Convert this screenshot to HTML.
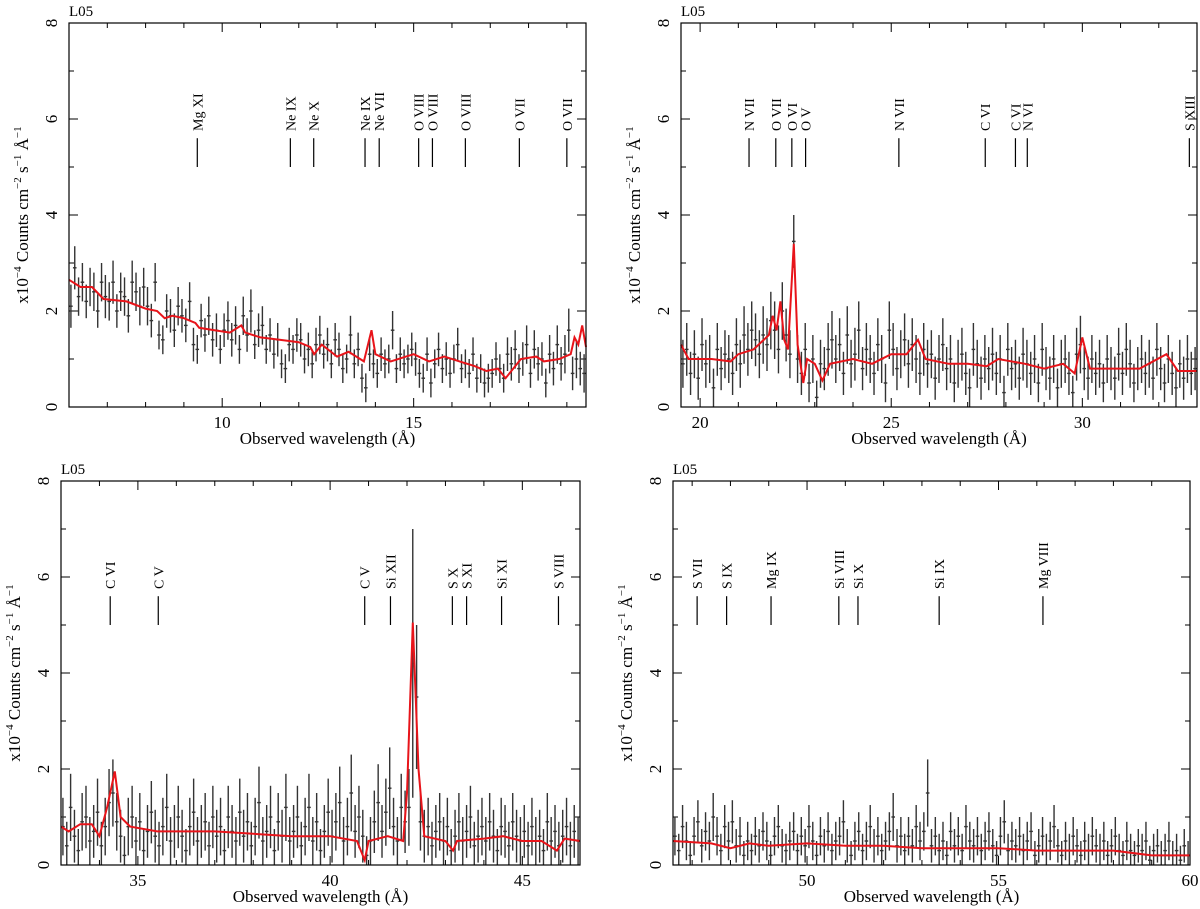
<!DOCTYPE html>
<html><head><meta charset="utf-8"><style>
body{margin:0;background:#fff}
svg{display:block;font-family:"Liberation Serif",serif}
</style></head><body>
<svg id="chart" width="1200" height="909" viewBox="0 0 1200 909" xmlns="http://www.w3.org/2000/svg"></svg>
<script>
// ---------- data ----------
const p1Start = 6.0, p2Start = 19.5, p3Start = 33.0, p4Start = 46.5;
const binStep = 0.1;
const p1Values = [2.1,2.9,2.3,2.6,2.2,2.5,2.4,2.0,2.6,2.3, 2.2,2.6,2.0,2.4,2.3,1.9,2.6,2.4,2.1,2.5, 2.1,1.8,2.6,1.5,1.4,2.0,1.9,1.6,2.1,1.9, 1.7,2.2,1.3,1.2,1.8,1.5,1.9,1.4,1.6,1.2, 1.6,1.8,1.4,1.7,1.2,1.9,1.5,2.0,1.3,1.6, 1.7,1.2,1.5,1.1,1.4,0.9,0.8,1.3,1.2,1.5, 1.4,1.0,1.2,0.9,1.3,1.5,1.1,1.3,0.9,1.4, 1.2,0.8,1.0,1.5,0.9,1.2,0.6,0.4,1.1,0.9, 0.7,1.1,0.9,1.0,1.6,0.8,1.1,0.9,1.0,1.2, 1.0,0.7,0.6,1.1,0.5,0.9,1.2,0.8,1.0,0.7, 1.0,1.3,0.8,0.9,0.7,1.1,0.6,0.8,0.5,0.6, 0.7,1.0,0.8,0.6,1.1,0.9,1.2,0.8,1.0,1.3, 0.7,1.2,0.9,1.0,0.5,1.1,0.8,1.3,0.9,1.1, 1.6,0.7,1.0,0.8,0.7];
const p1Errs = [0.45,0.45,0.4,0.4,0.35,0.4,0.4,0.35,0.4,0.45, 0.4,0.45,0.35,0.4,0.4,0.35,0.45,0.4,0.4,0.4, 0.4,0.35,0.4,0.3,0.3,0.35,0.35,0.35,0.4,0.35, 0.35,0.4,0.35,0.3,0.35,0.35,0.4,0.35,0.35,0.3, 0.35,0.4,0.35,0.4,0.3,0.4,0.35,0.45,0.3,0.35, 0.4,0.3,0.35,0.3,0.35,0.3,0.3,0.35,0.3,0.35, 0.35,0.3,0.35,0.3,0.35,0.4,0.3,0.35,0.3,0.35, 0.35,0.3,0.3,0.4,0.3,0.35,0.3,0.3,0.35,0.3, 0.3,0.35,0.3,0.3,0.4,0.3,0.35,0.3,0.3,0.35, 0.35,0.3,0.3,0.35,0.3,0.3,0.35,0.3,0.35,0.3, 0.3,0.35,0.3,0.3,0.3,0.35,0.3,0.3,0.3,0.3, 0.3,0.35,0.3,0.3,0.35,0.35,0.4,0.3,0.35,0.4, 0.3,0.4,0.35,0.35,0.3,0.4,0.35,0.4,0.35,0.4, 0.45,0.35,0.4,0.35,0.4];
const p2Values = [0.9,1.2,0.7,1.1,0.6,1.3,0.9,1.0,0.4,1.2, 0.8,1.1,1.0,0.7,1.3,0.9,1.5,1.2,1.6,1.4, 1.1,1.5,1.3,1.8,1.6,1.2,2.0,1.5,1.1,3.45, 1.0,0.7,1.2,0.5,1.0,0.2,0.9,0.8,1.2,1.4, 1.0,1.3,0.7,1.5,0.9,1.1,1.6,0.8,1.2,1.0, 0.7,1.3,1.0,0.5,1.6,1.2,0.8,1.1,1.4,0.9, 1.3,1.0,0.7,1.2,0.9,1.1,0.6,1.0,1.3,0.8, 1.0,0.5,0.9,1.1,0.7,0.4,1.2,0.9,0.6,1.0, 0.8,1.1,0.7,1.0,0.3,1.2,0.8,0.9,0.6,1.1, 0.9,0.7,1.0,0.5,1.2,0.8,0.6,1.0,0.4,0.9, 1.0,0.7,0.3,1.1,1.3,0.8,0.6,1.0,0.7,0.9, 0.5,1.0,0.8,0.6,1.1,0.7,1.2,0.9,0.5,0.8, 1.0,0.7,0.9,0.6,1.2,0.8,0.5,1.0,0.7,0.4, 0.9,0.6,1.0,0.7,0.8];
const p2Errs = [0.5,0.55,0.45,0.5,0.45,0.55,0.5,0.5,0.4,0.55, 0.45,0.5,0.5,0.45,0.55,0.5,0.6,0.55,0.6,0.55, 0.5,0.6,0.55,0.6,0.6,0.5,0.6,0.55,0.5,0.55, 0.5,0.45,0.55,0.4,0.5,0.35,0.5,0.45,0.55,0.6, 0.5,0.55,0.45,0.6,0.5,0.55,0.6,0.45,0.55,0.5, 0.45,0.55,0.5,0.4,0.6,0.55,0.45,0.5,0.55,0.5, 0.55,0.5,0.45,0.55,0.5,0.5,0.45,0.5,0.55,0.45, 0.5,0.4,0.5,0.55,0.45,0.4,0.55,0.5,0.45,0.5, 0.45,0.55,0.45,0.5,0.35,0.55,0.45,0.5,0.45,0.55, 0.5,0.45,0.5,0.4,0.55,0.45,0.45,0.5,0.4,0.5, 0.5,0.45,0.35,0.55,0.6,0.45,0.45,0.5,0.45,0.5, 0.4,0.5,0.45,0.45,0.55,0.45,0.55,0.5,0.4,0.45, 0.5,0.45,0.5,0.45,0.55,0.45,0.4,0.5,0.45,0.4, 0.5,0.45,0.5,0.45,0.45];
const p3Values = [0.8,0.4,1.2,0.6,0.3,0.9,1.0,0.5,0.7,1.1, 0.4,0.8,1.3,1.5,0.9,0.6,0.2,0.8,1.0,0.5, 0.9,0.3,0.7,1.1,0.6,0.4,0.8,1.2,0.5,0.7, 1.0,0.6,0.3,0.8,1.1,0.5,0.7,0.9,0.4,1.0, 0.6,0.8,0.3,1.0,0.7,0.5,1.1,0.6,0.9,0.4, 0.8,1.3,0.5,0.7,1.0,0.3,0.9,0.6,1.2,0.5, 0.7,1.0,0.4,0.8,1.2,0.5,0.9,0.3,0.7,1.1, 0.6,0.9,1.3,0.5,0.8,1.5,0.7,1.0,0.6,0.2, 0.5,0.9,1.3,0.7,1.1,1.6,0.8,0.5,1.2,0.9, 1.2,4.2,3.5,0.9,0.6,0.8,0.4,0.7,0.9,0.5, 0.8,0.3,0.6,0.9,0.5,0.7,1.0,0.4,0.6,0.8, 0.5,0.9,0.6,0.3,0.8,0.7,0.4,0.9,0.6,0.5, 0.7,0.4,0.8,0.5,0.6,0.3,0.9,0.5,0.7,0.4, 0.6,0.8,0.4,0.7,0.5];
const p3Errs = [0.6,0.5,0.7,0.55,0.45,0.6,0.65,0.5,0.55,0.7, 0.5,0.6,0.7,0.7,0.6,0.55,0.4,0.6,0.65,0.5, 0.6,0.45,0.55,0.65,0.55,0.5,0.6,0.7,0.5,0.55, 0.65,0.55,0.45,0.6,0.7,0.5,0.55,0.6,0.5,0.65, 0.55,0.6,0.45,0.65,0.55,0.5,0.7,0.55,0.6,0.5, 0.6,0.75,0.5,0.55,0.65,0.45,0.6,0.55,0.7,0.5, 0.55,0.65,0.5,0.6,0.7,0.5,0.6,0.45,0.55,0.7, 0.55,0.6,0.75,0.5,0.6,0.8,0.55,0.65,0.55,0.4, 0.5,0.65,0.8,0.55,0.7,0.85,0.6,0.5,0.7,0.65, 0.8,2.8,1.5,0.6,0.55,0.6,0.5,0.55,0.6,0.5, 0.6,0.45,0.55,0.6,0.5,0.55,0.65,0.5,0.55,0.6, 0.5,0.6,0.55,0.45,0.6,0.55,0.5,0.6,0.55,0.5, 0.55,0.5,0.6,0.5,0.55,0.45,0.6,0.5,0.55,0.5, 0.55,0.6,0.5,0.55,0.5];
const p4Values = [0.6,0.3,0.8,0.5,0.2,0.6,0.9,0.4,0.7,0.5, 1.0,0.6,0.3,0.8,0.5,0.9,0.4,0.6,0.2,0.5, 0.3,0.6,0.4,0.7,0.5,0.2,0.6,0.8,0.4,0.3, 0.5,0.7,0.3,0.6,0.4,0.8,0.5,0.2,0.6,0.4, 0.7,0.3,0.5,0.6,0.9,0.4,0.2,0.5,0.7,0.3, 0.5,0.8,0.4,0.6,0.3,0.5,0.7,1.0,0.4,0.6, 0.3,0.6,0.4,0.8,0.5,0.7,1.5,0.4,0.6,0.3, 0.5,0.2,0.7,0.4,0.6,0.3,0.8,0.5,0.4,0.6, 0.3,0.5,0.7,0.4,0.2,0.6,0.9,0.3,0.5,0.4, 0.6,0.3,0.5,0.7,0.2,0.4,0.6,0.3,0.5,0.8, 0.4,0.2,0.5,0.3,0.6,0.4,0.2,0.5,0.3,0.6, 0.4,0.3,0.5,0.2,0.4,0.6,0.3,0.2,0.5,0.3, 0.2,0.4,0.3,0.5,0.1,0.3,0.4,0.2,0.3,0.5, 0.2,0.3,0.1,0.4,0.2];
const p4Errs = [0.4,0.35,0.45,0.4,0.3,0.4,0.45,0.35,0.4,0.4, 0.5,0.4,0.35,0.45,0.4,0.45,0.35,0.4,0.3,0.4, 0.35,0.4,0.35,0.4,0.4,0.3,0.4,0.45,0.35,0.35, 0.4,0.4,0.35,0.4,0.35,0.45,0.4,0.3,0.4,0.35, 0.4,0.35,0.4,0.4,0.45,0.35,0.3,0.4,0.4,0.35, 0.4,0.45,0.35,0.4,0.35,0.4,0.4,0.5,0.35,0.4, 0.35,0.4,0.35,0.45,0.4,0.4,0.7,0.35,0.4,0.35, 0.4,0.3,0.4,0.35,0.4,0.35,0.45,0.4,0.35,0.4, 0.35,0.4,0.4,0.35,0.3,0.4,0.45,0.35,0.4,0.35, 0.4,0.35,0.4,0.4,0.3,0.35,0.4,0.35,0.4,0.45, 0.35,0.3,0.4,0.35,0.4,0.35,0.3,0.4,0.35,0.4, 0.35,0.35,0.4,0.3,0.35,0.4,0.35,0.3,0.4,0.35, 0.3,0.35,0.35,0.4,0.3,0.35,0.35,0.3,0.35,0.4, 0.3,0.35,0.3,0.35,0.3];
// model curves (knot wavelengths / values)
const p1ModelX = [6.0,6.3,6.6,6.9,7.5,8.0,8.3,8.5,8.7,9.0,9.3,9.4,9.8,10.2,10.5,10.6,11.0,11.5,12.0,12.3,12.4,12.6,13.0,13.3,13.7,13.9,14.0,14.4,14.8,15.0,15.4,15.8,16.2,16.6,16.9,17.2,17.4,17.8,18.2,18.4,18.8,19.1,19.2,19.3,19.4,19.5];
const p1ModelY = [2.65,2.5,2.5,2.25,2.2,2.05,2.0,1.85,1.9,1.85,1.75,1.65,1.6,1.55,1.7,1.55,1.45,1.4,1.35,1.25,1.1,1.3,1.05,1.15,0.95,1.6,1.1,0.95,1.05,1.1,0.95,1.05,0.95,0.85,0.75,0.8,0.6,1.0,1.05,0.95,1.0,1.1,1.45,1.3,1.7,1.25];
const p2ModelX = [19.5,19.7,20.3,20.8,21.0,21.4,21.8,21.9,22.0,22.1,22.2,22.3,22.45,22.55,22.7,22.8,23.0,23.2,23.4,24.0,24.5,25.0,25.4,25.7,25.9,26.5,27.0,27.5,27.8,28.5,29.0,29.5,29.8,30.0,30.2,30.8,31.5,32.2,32.5,33.0];
const p2ModelY = [1.3,1.0,1.0,0.95,1.1,1.2,1.5,1.9,1.6,2.2,1.4,1.2,3.4,1.3,0.5,1.0,0.9,0.55,0.9,1.0,0.9,1.1,1.1,1.4,1.0,0.9,0.9,0.85,1.0,0.9,0.8,0.9,0.7,1.45,0.8,0.8,0.8,1.1,0.75,0.75];
const p3ModelX = [33.0,33.2,33.5,33.8,34.0,34.2,34.4,34.55,34.8,35.5,36,37,38,39,40,40.7,40.9,41.0,41.5,41.9,42.0,42.15,42.3,42.45,43,43.2,43.3,44,44.5,45,45.5,45.9,46.1,46.5];
const p3ModelY = [0.8,0.7,0.85,0.85,0.6,1.2,1.95,1.0,0.8,0.7,0.7,0.7,0.65,0.6,0.6,0.5,0.1,0.5,0.6,0.5,1.5,5.05,2.0,0.6,0.5,0.3,0.5,0.55,0.6,0.5,0.5,0.3,0.55,0.5];
const p4ModelX = [46.5,47.5,48,48.5,49,50,51,52,53,54,55,56,57,58,59,60];
const p4ModelY = [0.5,0.45,0.35,0.45,0.4,0.45,0.4,0.4,0.35,0.35,0.35,0.3,0.3,0.3,0.2,0.2];
// line identifications
const p1LineNames = ["Mg XI","Ne IX","Ne X","Ne IX","Ne VII","O VIII","O VIII","O VIII","O VII","O VII"];
const p1LineWl = [9.35,11.78,12.39,13.73,14.1,15.13,15.49,16.35,17.76,19.0];
const p2LineNames = ["N VII","O VII","O VI","O V","N VII","C VI","C VI","N VI","S XIII"];
const p2LineWl = [21.28,21.98,22.4,22.76,25.2,27.46,28.25,28.56,32.8];
const p3LineNames = ["C VI","C V","C V","Si XII","S X","S XI","Si XI","S VIII"];
const p3LineWl = [34.28,35.53,40.9,41.57,43.18,43.55,44.46,45.94];
const p4LineNames = ["S VII","S IX","Mg IX","Si VIII","Si X","Si IX","Mg VIII"];
const p4LineWl = [47.13,47.9,49.06,50.83,51.33,53.45,56.16];
const xRanges = [[6.0,19.5],[19.5,33.0],[33.0,46.5],[46.5,60.0]];
const yTicks = [0,2,4,6,8];

// ---------- drawing ----------
const NS = "http://www.w3.org/2000/svg";
const svg = document.getElementById("chart");
function mk(tag, attrs, parent){ const e=document.createElementNS(NS,tag); for(const k in attrs) e.setAttribute(k,attrs[k]); (parent||svg).appendChild(e); return e; }

const panels = [
 {box:[69,586,23,407], start:p1Start, vals:p1Values, errs:p1Errs, mx:p1ModelX, my:p1ModelY, ln:p1LineNames, lw:p1LineWl, yTitleX:22},
 {box:[681,1197,23,407], start:p2Start, vals:p2Values, errs:p2Errs, mx:p2ModelX, my:p2ModelY, ln:p2LineNames, lw:p2LineWl, yTitleX:634},
 {box:[61,580,481,865], start:p3Start, vals:p3Values, errs:p3Errs, mx:p3ModelX, my:p3ModelY, ln:p3LineNames, lw:p3LineWl, yTitleX:14},
 {box:[673,1190,481,865], start:p4Start, vals:p4Values, errs:p4Errs, mx:p4ModelX, my:p4ModelY, ln:p4LineNames, lw:p4LineWl, yTitleX:626}
];

panels.forEach((p,pi)=>{
  const [x0,x1,yT,yB] = p.box;
  const [lo,hi] = xRanges[pi];
  const xs = v => x0 + (v-lo)/(hi-lo)*(x1-x0);
  const ys = v => yB - v/8*(yB-yT);
  const g = mk("g",{});
  
  

  const tg = mk("g",{stroke:"#000","stroke-width":1},g);
  
  
  for(let w=Math.ceil(lo); w<=hi; w++){
    const X=xs(w), L=(w%5===0)?9:5;
    mk("line",{x1:X,x2:X,y1:yB,y2:yB-L},tg);
    mk("line",{x1:X,x2:X,y1:yT,y2:yT+L},tg);
    if(w%5===0){
      const t=mk("text",{x:X,y:yB+21,"font-size":17,"text-anchor":"middle",fill:"#000",stroke:"none"},g);
      t.textContent=w;
      
      
    }
  }
  for(let v=0; v<=8; v++){
    const Y=ys(v), L=(v%2===0)?9:5;
    mk("line",{x1:x0,x2:x0+L,y1:Y,y2:Y},tg);
    mk("line",{x1:x1,x2:x1-L,y1:Y,y2:Y},tg);
  }
  yTicks.forEach(v=>{
    const Y=ys(v);
    const t=mk("text",{x:0,y:0,"font-size":17,"text-anchor":"middle",fill:"#000",transform:`translate(${x0-12},${Y}) rotate(-90)`},g);
    t.textContent=v;
    
    
  });

  const dg = mk("g",{stroke:"#333","stroke-width":1.4},g);
  
  
  p.vals.forEach((v,i)=>{
    const w = p.start + binStep*(i+0.5);
    const X = xs(w), e = p.errs[i];
    const top = Math.min(ys(v+e), yB), bot = Math.min(ys(Math.max(v-e,0)), yB);
    const l = mk("line",{x1:X,x2:X,y1:Math.max(top,yT),y2:bot},dg);
    
    
    mk("line",{x1:X-1.8,x2:X+1.8,y1:ys(v),y2:ys(v)},dg);
  });

  const pts = p.mx.map((w,i)=>`${xs(w).toFixed(1)},${ys(p.my[i]).toFixed(1)}`).join(" ");
  const pl = mk("polyline",{points:pts,fill:"none",stroke:"#e8141a","stroke-width":2},g);
  
  

  const fr = mk("rect",{x:x0,y:yT,width:x1-x0,height:yB-yT,fill:"none",stroke:"#000","stroke-width":1.2},g);
  
  

  p.ln.forEach((n,i)=>{
    const X = xs(p.lw[i]);
    const lm = mk("line",{x1:X,x2:X,y1:ys(5),y2:ys(5.6),stroke:"#000","stroke-width":1.2},g);
    
    
    const t = mk("text",{x:0,y:0,"font-size":14,"text-anchor":"start",fill:"#000",transform:`translate(${X+5},${ys(5.75)}) rotate(-90)`},g);
    t.textContent=n;
    
    
  });

  const l05 = mk("text",{x:x0,y:yT-7,"font-size":15,fill:"#000"},g);
  l05.textContent="L05";
  
  
  const xt = mk("text",{x:(x0+x1)/2,y:yB+37,"font-size":17,"text-anchor":"middle",fill:"#000"},g);
  xt.textContent="Observed wavelength (Å)";
  
  
  const yt = mk("text",{x:0,y:0,"font-size":17,"text-anchor":"middle",fill:"#000",transform:`translate(${p.yTitleX+6},${(yT+yB)/2}) rotate(-90)`},g);
  yt.innerHTML='x10<tspan dy="-7" font-size="11">−4</tspan><tspan dy="7"> Counts cm</tspan><tspan dy="-7" font-size="11">−2</tspan><tspan dy="7"> s</tspan><tspan dy="-7" font-size="11">−1</tspan><tspan dy="7"> Å</tspan><tspan dy="-7" font-size="11">−1</tspan>';
  
  
});
</script>
</body></html>
